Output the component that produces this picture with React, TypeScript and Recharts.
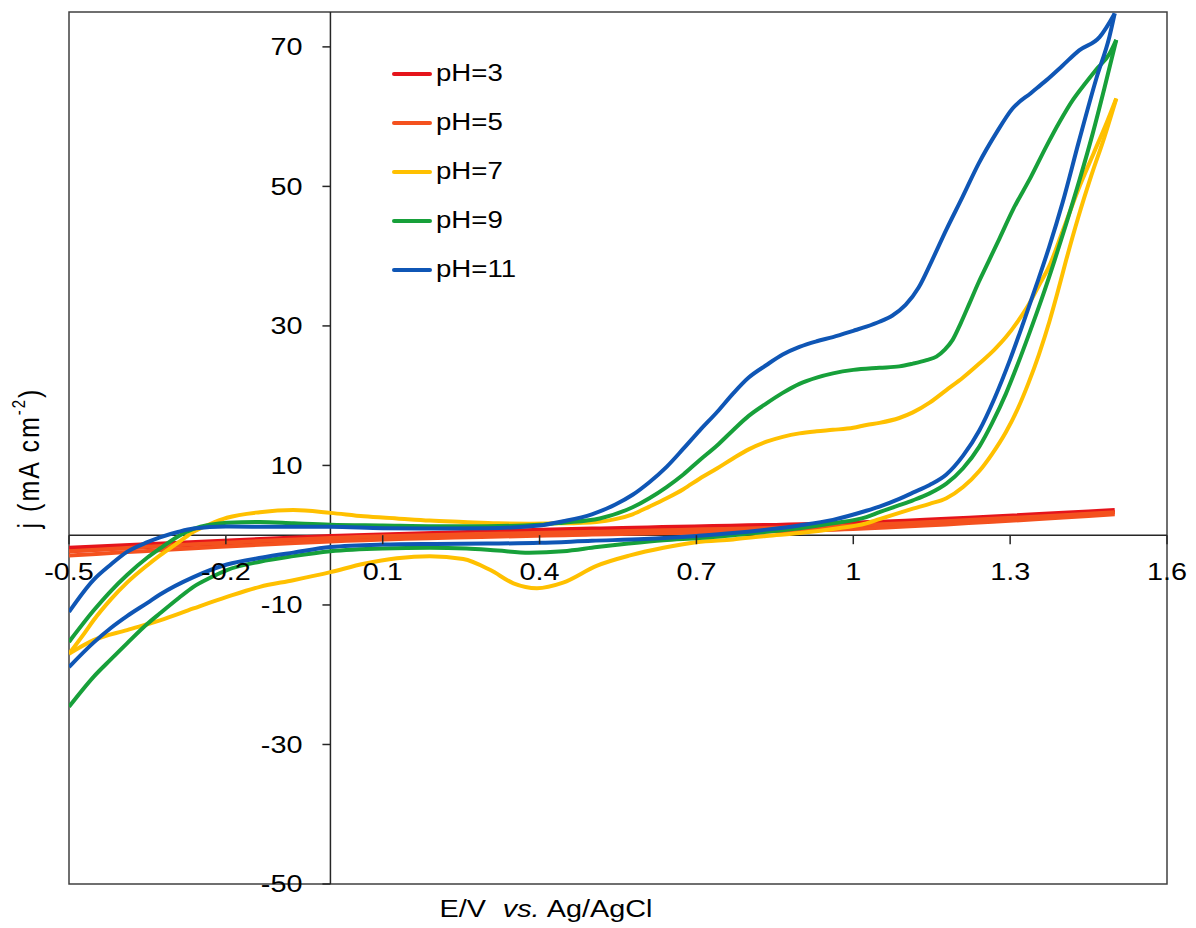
import React from 'react';
import {
  LineChart,
  Line,
  XAxis,
  YAxis,
  ReferenceLine,
  ReferenceDot,
  ReferenceArea,
  Legend,
} from 'recharts';

// E (V vs Ag/AgCl), j (mA cm-2); each CV split into anodic / cathodic branch, sorted by E
const pH3Anodic = [[-0.5, -1.8], [0, -0.1], [0.5, 0.95], [1.0, 1.8], [1.5, 3.6]];
const pH3Cathodic = [[-0.5, -2.3], [0, -0.5], [0.5, 0.55], [1.0, 1.3], [1.5, 3.3]];
const pH5Anodic = [[-0.5, -2.3], [0, -0.4], [0.5, 0.5], [1.0, 1.4], [1.5, 3.3]];
const pH5Cathodic = [[-0.5, -2.9], [0, -0.9], [0.5, 0.1], [1.0, 0.9], [1.5, 3.0]];

const pH7Anodic = [
  [-0.5, -17.0], [-0.47, -14.0], [-0.453, -12.2], [-0.42, -9.2], [-0.389, -6.8], [-0.35, -4.3],
  [-0.326, -2.9], [-0.29, -1.0], [-0.262, 0.5], [-0.23, 1.6], [-0.198, 2.5], [-0.135, 3.3],
  [-0.071, 3.6], [0, 3.2], [0.064, 2.7], [0.127, 2.4], [0.19, 2.1], [0.254, 1.9], [0.32, 1.7],
  [0.381, 1.65], [0.445, 1.7], [0.509, 1.9], [0.545, 2.3], [0.578, 3.0], [0.61, 4.1], [0.643, 5.3],
  [0.675, 6.6], [0.706, 8.1], [0.74, 9.6], [0.77, 11.0], [0.8, 12.3], [0.834, 13.4], [0.865, 14.1],
  [0.897, 14.6], [0.93, 14.9], [0.961, 15.1], [1.0, 15.4], [1.025, 15.8], [1.05, 16.1], [1.088, 16.8],
  [1.114, 17.6], [1.146, 19.0], [1.178, 20.8], [1.21, 22.6], [1.241, 24.6], [1.27, 26.6], [1.292, 28.4],
  [1.315, 30.7], [1.335, 33.0], [1.355, 35.8], [1.375, 38.6], [1.4, 43.5], [1.43, 49.5], [1.46, 54.8],
  [1.485, 59.2], [1.503, 62.6],
];
const pH7Cathodic = [
  [-0.5, -17.0], [-0.453, -15.05], [-0.389, -13.6], [-0.326, -12.2], [-0.262, -10.5], [-0.198, -8.85],
  [-0.135, -7.4], [-0.071, -6.45], [0, -5.3], [0.064, -4.1], [0.127, -3.3], [0.19, -3.0], [0.254, -3.4],
  [0.306, -5.0], [0.35, -6.9], [0.395, -7.6], [0.445, -6.8], [0.509, -4.4], [0.573, -2.9], [0.637, -1.8],
  [0.7, -1.0], [0.77, -0.6], [0.834, -0.1], [0.897, 0.3], [0.961, 0.9], [1.025, 1.7], [1.05, 2.3],
  [1.088, 3.2], [1.114, 3.8], [1.146, 4.5], [1.178, 5.3], [1.21, 6.9], [1.241, 9.2], [1.265, 11.6],
  [1.292, 14.8], [1.315, 18.2], [1.335, 21.8], [1.355, 25.9], [1.375, 30.6], [1.39, 34.6], [1.407, 39.4],
  [1.43, 45.5], [1.455, 51.5], [1.48, 57.0], [1.503, 62.6],
];

const pH9Anodic = [
  [-0.5, -15.3], [-0.453, -10.8], [-0.42, -8.0], [-0.389, -5.7], [-0.35, -3.2], [-0.326, -1.9],
  [-0.29, -0.1], [-0.262, 0.9], [-0.23, 1.5], [-0.198, 1.8], [-0.135, 1.9], [-0.07, 1.7], [0, 1.5],
  [0.1, 1.4], [0.2, 1.3], [0.3, 1.3], [0.4, 1.5], [0.445, 1.8], [0.515, 2.4], [0.578, 4.0], [0.61, 5.3],
  [0.643, 6.9], [0.675, 8.7], [0.706, 10.75], [0.74, 12.9], [0.77, 15.05], [0.8, 17.1], [0.834, 18.9],
  [0.865, 20.4], [0.897, 21.7], [0.93, 22.6], [0.961, 23.2], [1.0, 23.7], [1.05, 24.0], [1.088, 24.2],
  [1.114, 24.6], [1.14, 25.1], [1.159, 25.6], [1.175, 26.6], [1.19, 28.0], [1.205, 30.3], [1.222, 33.2],
  [1.24, 36.3], [1.254, 38.5], [1.28, 42.6], [1.305, 46.6], [1.34, 51.4], [1.369, 55.7], [1.395, 59.3],
  [1.42, 62.4], [1.445, 64.9], [1.464, 66.7], [1.49, 69.0], [1.503, 71.0],
];
const pH9Cathodic = [
  [-0.5, -24.6], [-0.453, -20.3], [-0.42, -17.8], [-0.389, -15.5], [-0.35, -12.7], [-0.326, -11.2],
  [-0.29, -9.0], [-0.262, -7.4], [-0.23, -6.1], [-0.198, -5.0], [-0.135, -3.8], [-0.071, -3.0], [0, -2.3],
  [0.1, -1.9], [0.19, -1.8], [0.26, -1.9], [0.32, -2.2], [0.38, -2.5], [0.445, -2.3], [0.51, -1.7],
  [0.57, -1.2], [0.637, -0.72], [0.706, -0.4], [0.77, 0.0], [0.834, 0.5], [0.897, 1.0], [0.961, 1.7],
  [1.025, 2.6], [1.05, 3.3], [1.088, 4.3], [1.114, 5.0], [1.146, 6.0], [1.178, 7.4], [1.21, 9.6],
  [1.241, 12.7], [1.265, 16.0], [1.292, 20.3], [1.315, 24.6], [1.337, 29.0], [1.36, 33.8], [1.385, 39.4],
  [1.407, 44.6], [1.433, 51.0], [1.458, 57.6], [1.48, 64.0], [1.503, 71.0],
];

const pH11Anodic = [
  [-0.5, -11.0], [-0.453, -6.4], [-0.42, -4.2], [-0.389, -2.4], [-0.35, -1.0], [-0.326, -0.3],
  [-0.29, 0.5], [-0.262, 0.95], [-0.2, 1.25], [-0.1, 1.2], [0, 1.2], [0.1, 1.0], [0.2, 0.95], [0.3, 1.0],
  [0.4, 1.4], [0.445, 2.0], [0.5, 3.0], [0.545, 4.4], [0.578, 5.8], [0.61, 7.6], [0.643, 9.8],
  [0.675, 12.4], [0.706, 15.0], [0.74, 17.7], [0.77, 20.3], [0.8, 22.6], [0.834, 24.4], [0.865, 25.9],
  [0.897, 27.0], [0.93, 27.8], [0.961, 28.4], [1.0, 29.3], [1.025, 29.9], [1.05, 30.6], [1.075, 31.5],
  [1.1, 33.0], [1.125, 35.5], [1.15, 39.3], [1.178, 43.8], [1.209, 48.5], [1.24, 53.3],
  [1.273, 57.6], [1.305, 61.2], [1.34, 63.4], [1.369, 65.2], [1.4, 67.3], [1.432, 69.5], [1.471, 71.4],
  [1.5, 74.8],
];
const pH11Cathodic = [
  [-0.5, -18.9], [-0.453, -15.4], [-0.42, -13.3], [-0.389, -11.6], [-0.35, -9.7], [-0.326, -8.5],
  [-0.262, -6.0], [-0.198, -4.2], [-0.13, -3.2], [-0.071, -2.5], [0, -1.7], [0.1, -1.35], [0.2, -1.25],
  [0.3, -1.2], [0.4, -1.1], [0.5, -0.8], [0.6, -0.55], [0.7, -0.1], [0.77, 0.3], [0.834, 0.8],
  [0.897, 1.4], [0.961, 2.2], [1.025, 3.5], [1.05, 4.1], [1.088, 5.2], [1.114, 6.1], [1.146, 7.2],
  [1.178, 8.7], [1.21, 11.4], [1.241, 15.0], [1.27, 19.6], [1.3, 25.2], [1.325, 30.4], [1.35, 35.8],
  [1.375, 41.4], [1.4, 47.6], [1.432, 56.6], [1.465, 65.5], [1.49, 71.5], [1.5, 74.8],
];

const X_TICKS = [-0.5, -0.2, 0.1, 0.4, 0.7, 1, 1.3, 1.6];
const Y_TICKS = [-50, -30, -10, 10, 30, 50, 70];

const toPoints = (rows: number[][]) => rows.map(([E, j]) => ({ E, j }));

const SERIES = [
  { name: 'pH=3', color: '#e5141b', anodic: pH3Anodic, cathodic: pH3Cathodic },
  { name: 'pH=5', color: '#f4511e', anodic: pH5Anodic, cathodic: pH5Cathodic },
  { name: 'pH=7', color: '#ffc000', anodic: pH7Anodic, cathodic: pH7Cathodic },
  { name: 'pH=9', color: '#17a03a', anodic: pH9Anodic, cathodic: pH9Cathodic },
  { name: 'pH=11', color: '#0f56b5', anodic: pH11Anodic, cathodic: pH11Cathodic },
];

const FONT = '"Liberation Sans", Arial, sans-serif';
const AXIS = '#262626';
const STRETCH = 1.2;

const XTick = ({ cx, cy, text }: { cx: number; cy: number; text: string }) => (
  <g>
    <line x1={cx} y1={cy} x2={cx} y2={cy + 9} stroke={AXIS} strokeWidth={1.5} />
    <text
      transform={`translate(${cx} ${cy + 45}) scale(${STRETCH} 1)`}
      textAnchor="middle"
      fontSize={24}
      fontFamily={FONT}
      fill="#000"
    >
      {text}
    </text>
  </g>
);

const YTick = ({ cx, cy, text }: { cx: number; cy: number; text: string }) => (
  <g>
    <line x1={cx - 8} y1={cy} x2={cx} y2={cy} stroke={AXIS} strokeWidth={1.5} />
    <text
      transform={`translate(${cx - 28} ${cy}) scale(${STRETCH} 1)`}
      textAnchor="end"
      dominantBaseline="central"
      fontSize={24}
      fontFamily={FONT}
      fill="#000"
    >
      {text}
    </text>
  </g>
);

const XTitle = ({ viewBox }: any) => (
  <text
    transform={`translate(${viewBox.x + 477} ${viewBox.y + 33}) scale(${STRETCH} 1)`}
    textAnchor="middle"
    fontSize={24}
    fontFamily={FONT}
    fill="#000"
  >
    E/V
    <tspan dx={14} fontStyle="italic">vs.</tspan>
    <tspan dx={6}>Ag/AgCl</tspan>
  </text>
);

const YTitle = ({ viewBox }: any) => (
  <text
    transform={`translate(${viewBox.x + 21} ${viewBox.y + viewBox.height / 2 + 10}) rotate(-90) scale(1 ${STRETCH})`}
    textAnchor="middle"
    dominantBaseline="central"
    fontSize={25}
    letterSpacing={2}
    fontFamily={FONT}
    fill="#000"
  >
    j (mA cm
    <tspan dy={-9} fontSize={15}>-2</tspan>
    <tspan dy={9}>)</tspan>
  </text>
);

const renderLegend = () => (
  <div style={{ fontFamily: FONT, fontSize: 23, color: '#000' }}>
    {SERIES.map((s) => (
      <div key={s.name} style={{ display: 'flex', alignItems: 'center', height: 49 }}>
        <span style={{ width: 40, height: 4, background: s.color, borderRadius: 2 }} />
        <span
          style={{
            display: 'inline-block',
            marginLeft: 4,
            transform: `scaleX(${STRETCH})`,
            transformOrigin: 'left center',
          }}
        >
          {s.name}
        </span>
      </div>
    ))}
  </div>
);

export default function App() {
  return (
    <LineChart width={1180} height={920} margin={{ top: 4, right: 21, bottom: 8, left: 0 }}>
      <XAxis
        type="number"
        dataKey="E"
        domain={[-0.5, 1.6]}
        allowDataOverflow
        ticks={X_TICKS}
        tick={false}
        tickLine={false}
        axisLine={false}
        height={36}
        label={{ content: XTitle }}
      />
      <YAxis
        type="number"
        dataKey="j"
        domain={[-50, 75]}
        allowDataOverflow
        ticks={Y_TICKS}
        tick={false}
        tickLine={false}
        axisLine={false}
        width={61}
        label={{ content: YTitle }}
      />
      <ReferenceArea
        x1={-0.5}
        x2={1.6}
        y1={-50}
        y2={75}
        fill="none"
        stroke="#404040"
        strokeWidth={1.5}
        ifOverflow="visible"
      />
      <ReferenceLine y={0} stroke={AXIS} strokeWidth={1.5} />
      <ReferenceLine x={0} stroke={AXIS} strokeWidth={1.5} />
      {SERIES.map((s) => [
        <Line
          key={`${s.name}-a`}
          data={toPoints(s.anodic)}
          dataKey="j"
          name={s.name}
          type="monotone"
          stroke={s.color}
          strokeWidth={4}
          dot={false}
          activeDot={false}
          isAnimationActive={false}
        />,
        <Line
          key={`${s.name}-c`}
          data={toPoints(s.cathodic)}
          dataKey="j"
          name={s.name}
          type="monotone"
          stroke={s.color}
          strokeWidth={4}
          dot={false}
          activeDot={false}
          legendType="none"
          isAnimationActive={false}
        />,
      ])}
      {X_TICKS.map((t) => (
        <ReferenceDot
          key={`xt-${t}`}
          x={t}
          y={0}
          ifOverflow="visible"
          shape={(p: any) => <XTick cx={p.cx} cy={p.cy} text={String(t)} />}
        />
      ))}
      {Y_TICKS.map((t) => (
        <ReferenceDot
          key={`yt-${t}`}
          x={0}
          y={t}
          ifOverflow="visible"
          shape={(p: any) => <YTick cx={p.cx} cy={p.cy} text={String(t)} />}
        />
      ))}
      <Legend
        layout="vertical"
        align="center"
        verticalAlign="middle"
        content={renderLegend}
        wrapperStyle={{ left: 384, top: 41, width: 200 }}
      />
    </LineChart>
  );
}
